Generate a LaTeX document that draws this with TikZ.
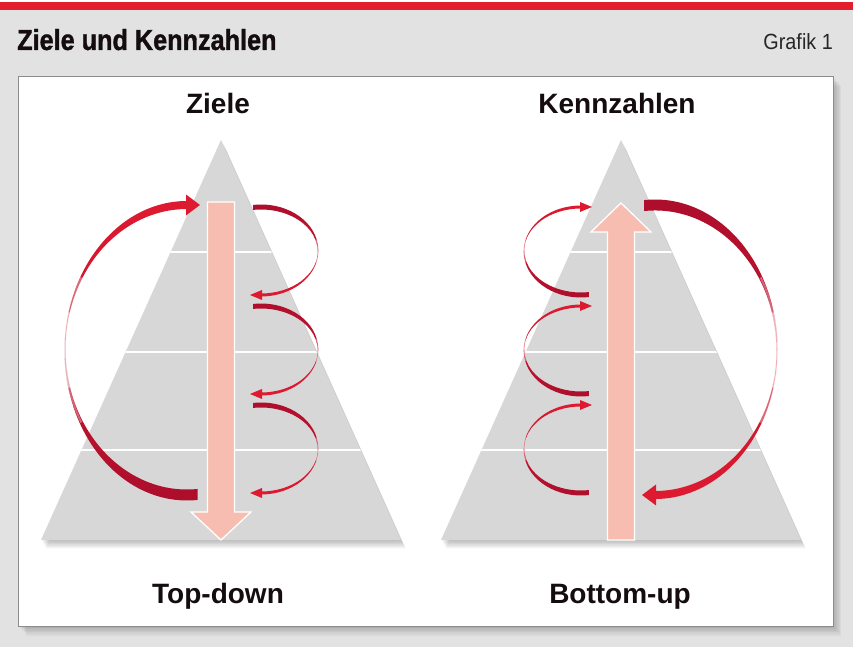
\documentclass[tikz,border=0pt]{standalone}
\usepackage{fontspec}
\setmainfont{Liberation Sans}
\newfontfamily\titlefont[FakeStretch=0.87,FakeBold=1.2]{Liberation Sans}
\newfontfamily\grafikfont[FakeStretch=0.9]{Liberation Sans}
\definecolor{bggray}{RGB}{226,226,226}
\definecolor{topred}{RGB}{226,30,46}
\definecolor{pyrgray}{RGB}{215,215,215}
\definecolor{pinkarrow}{RGB}{247,189,176}
\definecolor{arcbright}{RGB}{222,26,48}
\definecolor{arcdark}{RGB}{172,14,44}
\definecolor{textblack}{RGB}{20,12,14}
\tikzset{
  lbl/.style={font=\bfseries\fontsize{28}{30}\selectfont, text=textblack, inner sep=0pt, anchor=base},
  pinkfill/.style={fill=pinkarrow, draw=white, line width=1.3pt, line join=miter},
  headup/.style={top color=arcbright, bottom color=arcdark},
  headdown/.style={top color=arcdark, bottom color=arcbright},
  tipfill/.style={fill=arcbright}
}
\newcommand\pyr[1]{%
  \foreach \i in {1,...,6}{%
    \fill[black,opacity=0.045] ({#1-180+\i*0.8},{107-\i*1.4}) -- ({#1+180+\i*0.8},{107-\i*1.4}) -- ({#1+\i*0.8},{507-\i*1.4}) -- cycle;}
  \fill[pyrgray] ({#1-180},107) -- ({#1+180},107) -- (#1,507) -- cycle;
  \begin{scope}
    \clip ({#1-180},107) -- ({#1+180},107) -- (#1,507) -- cycle;
    \foreach \yy in {395,295,197}{\draw[white, line width=1.5pt] ({#1-200},\yy) -- ({#1+200},\yy);}
  \end{scope}}
% #1: shading of the big arc, #2: shading of the small arcs
\newcommand\arcset[2]{%
  \shade[#1] (-34,149) arc[start angle=90, end angle=275, x radius=122.5, y radius=149.75]
     -- ([shift={(-34,0.75)}]275:121.5 and 140.25)
     arc[start angle=275, end angle=90, x radius=121.5, y radius=140.25] -- cycle;
  \draw[white, opacity=0.35, line width=2pt] ([shift={(-34,0)}]150:122 and 145) arc[start angle=150, end angle=210, x radius=122, y radius=145];
  \draw[white, opacity=0.5, line width=2pt] ([shift={(-34,0)}]165:122 and 145) arc[start angle=165, end angle=195, x radius=122, y radius=145];
  \fill[tipfill] (-35,155.5) -- (-21,145) -- (-35,134.5) -- cycle;
  \foreach \yc in {99,0,-99}{%
    \shade[#2] ([shift={(40,\yc+0.5)}]98:57.3 and 46)
       arc[start angle=98, end angle=-90, x radius=57.3, y radius=46]
       -- ([shift={(40,\yc-0.5)}]-90:56.7 and 42)
       arc[start angle=-90, end angle=98, x radius=56.7, y radius=42] -- cycle;
    \draw[white, opacity=0.35, line width=1.2pt] ([shift={(40,\yc)}]15:57 and 44) arc[start angle=15, end angle=-15, x radius=57, y radius=44];
    \fill[tipfill] (41,\yc-39) -- (29,\yc-44) -- (41,\yc-49) -- cycle;
  }}
\begin{document}
\begin{tikzpicture}[x=1pt,y=1pt]
\useasboundingbox (0,0) rectangle (853,647);
\fill[bggray] (0,0) rectangle (853,647);
\fill[white] (0,645) rectangle (853,647);
\fill[topred] (0,637) rectangle (853,645);
% panel with shadow
\foreach \i in {1,...,6}{\fill[black,opacity=0.04] ({18+\i*1.4},{21-\i*1.6}) rectangle ({833+\i*1.4},{571-\i*1.6});}
\fill[white, draw=black!45, line width=0.6pt] (18,21) rectangle (833,571);
% header texts
\node[font=\titlefont\bfseries\fontsize{29}{30}\selectfont, text=textblack, inner sep=0pt, anchor=base west] (title) at (17,597) {Ziele und Kennzahlen};
\node[font=\grafikfont\fontsize{22}{24}\selectfont, text=black!85, inner sep=0pt, anchor=base east] (grafik) at (833,597) {Grafik 1};
% pyramids
\pyr{221}
\pyr{621}
% pink arrows
\path[pinkfill] (207.5,445) -- (234.5,445) -- (234.5,135) -- (251,135) -- (221,107) -- (191,135) -- (207.5,135) -- cycle;
\path[pinkfill] (607.5,107) -- (634.5,107) -- (634.5,415) -- (651,415) -- (621,444) -- (591,415) -- (607.5,415) -- cycle;
% circular arrows
\begin{scope}[shift={(221,297)}]
  \arcset{headup}{headdown}
\end{scope}
\begin{scope}[shift={(621,297)}, rotate=180]
  \arcset{headdown}{headup}
\end{scope}
% labels
\node[lbl] (ziele) at (218,533) {Ziele};
\node[lbl] (kennzahlen) at (617,533) {Kennzahlen};
\node[lbl] (topdown) at (218,43) {Top-down};
\node[lbl] (bottomup) at (620,43) {Bottom-up};
\end{tikzpicture}
\end{document}
